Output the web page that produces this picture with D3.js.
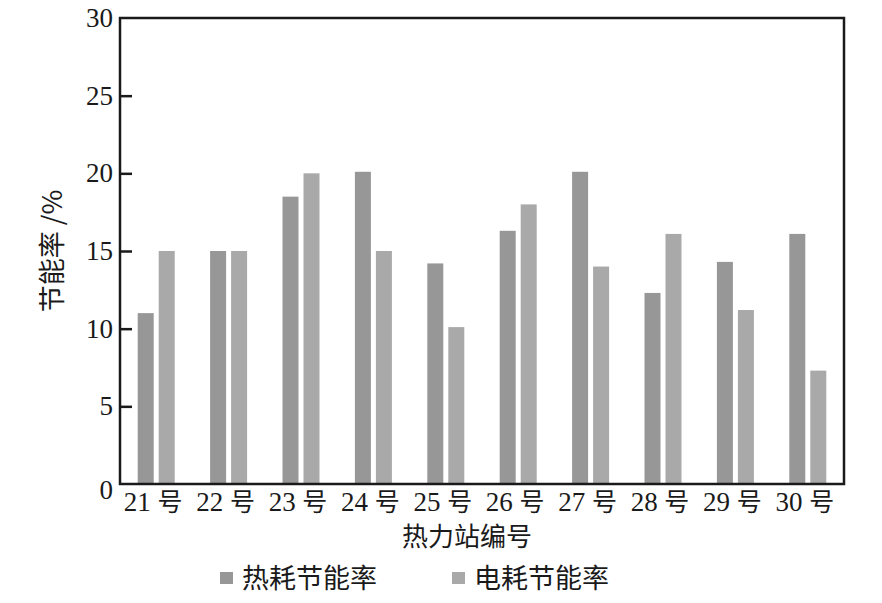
<!DOCTYPE html>
<html>
<head>
<meta charset="utf-8">
<script src="https://cdn.jsdelivr.net/npm/d3@7"></script>
<style>
html,body{margin:0;padding:0;background:#fff;}
svg{display:block;}
</style>
</head>
<body>
<svg id="chart" width="882" height="603"></svg>
<script>
const categories = ["21 号","22 号","23 号","24 号","25 号","26 号","27 号","28 号","29 号","30 号"];
const heatSaving = [11.0, 15.0, 18.5, 20.1, 14.2, 16.3, 20.1, 12.3, 14.3, 16.1];
const elecSaving = [15.0, 15.0, 20.0, 15.0, 10.1, 18.0, 14.0, 16.1, 11.2, 7.3];
const seriesNames = ["热耗节能率", "电耗节能率"];
const yTicks = [0, 5, 10, 15, 20, 25, 30];

const colors = ["#979797", "#a9a9a9"];
const serif = "'Liberation Serif','DejaVu Serif',serif";
const cjk = "'Noto Sans CJK SC','Liberation Serif',serif";

const svg = d3.select("#chart");
const L = 120, R = 844, T = 18, B = 484;

const x = d3.scaleBand().domain(categories).range([L, R]).padding(0);
const y = d3.scaleLinear().domain([0, 30]).range([B, T]);

const barW = 16, gap = 5;
const series = [heatSaving, elecSaving];

series.forEach((vals, si) => {
  svg.append("g").selectAll("rect")
    .data(vals)
    .join("rect")
    .attr("x", (d, i) => x(categories[i]) + x.bandwidth() / 2 + (si === 0 ? -(barW + gap / 2) : gap / 2))
    .attr("y", d => y(d))
    .attr("width", barW)
    .attr("height", d => y(0) - y(d))
    .attr("fill", colors[si]);
});

// y axis with inward ticks
const yAxis = d3.axisLeft(y).tickValues(yTicks).tickSize(0).tickPadding(7);
const gy = svg.append("g").attr("transform", `translate(${L},0)`).call(yAxis);
gy.select(".domain").remove();
gy.selectAll("text")
  .attr("font-family", serif).attr("font-size", 27).attr("fill", "#1a1a1a")
  .attr("dy", d => d === 0 ? "0.55em" : "0.32em");
gy.selectAll(".tick").filter(d => d !== 0 && d !== 30)
  .append("line").attr("x1", 0).attr("x2", 12).attr("stroke", "#1a1a1a").attr("stroke-width", 2.5);

// x axis labels
const xAxis = d3.axisBottom(x).tickSize(0).tickPadding(8);
const gx = svg.append("g").attr("transform", `translate(0,${B})`).call(xAxis);
gx.select(".domain").remove();
gx.selectAll("text")
  .attr("font-family", serif).attr("font-size", 27).attr("fill", "#1a1a1a")
  .attr("dx", "-3")
  .each(function(d) {
    const t = d3.select(this);
    const parts = d.split(" ");
    t.text(null);
    t.append("tspan").text(parts[0] + " ");
    t.append("tspan").attr("font-family", cjk).attr("font-size", 25).text(parts[1]);
  });

// frame
svg.append("rect").attr("x", L).attr("y", T).attr("width", R - L).attr("height", B - T)
  .attr("fill", "none").attr("stroke", "#1a1a1a").attr("stroke-width", 2.5);

// axis titles
svg.append("text").attr("x", 467).attr("y", 546)
  .attr("text-anchor", "middle").attr("font-family", cjk).attr("font-size", 26).attr("fill", "#1a1a1a")
  .text("热力站编号");

svg.append("text").attr("transform", "translate(62,251) rotate(-90)")
  .attr("text-anchor", "middle").attr("font-family", cjk).attr("font-size", 27).attr("fill", "#1a1a1a")
  .text("节能率 /%");

// legend
const legendX = [220, 452];
seriesNames.forEach((name, i) => {
  const g = svg.append("g").attr("transform", `translate(${legendX[i]},578)`);
  g.append("rect").attr("x", 0).attr("y", -6).attr("width", 13).attr("height", 12).attr("fill", colors[i]);
  g.append("text").attr("x", 22).attr("y", 0).attr("dy", "0.36em")
    .attr("font-family", cjk).attr("font-size", 27).attr("fill", "#1a1a1a").text(name);
});
</script>
</body>
</html>
